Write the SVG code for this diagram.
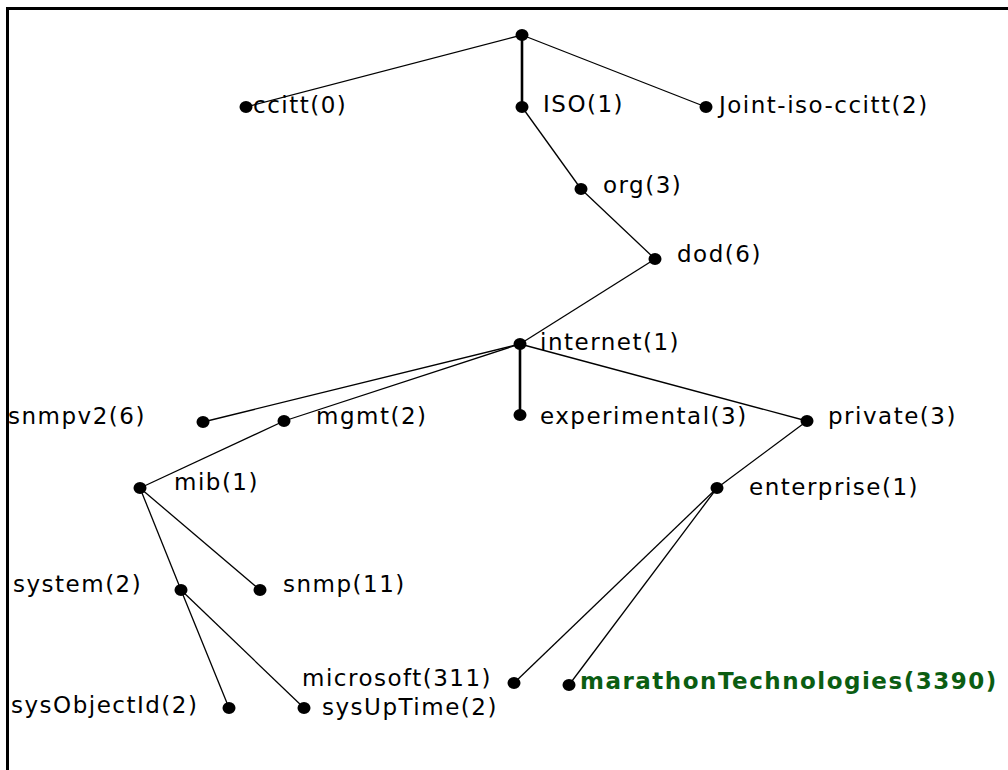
<svg xmlns="http://www.w3.org/2000/svg" width="1008" height="770" viewBox="0 0 1008 770">
<style>
.t{font-family:"DejaVu Sans","Verdana",sans-serif;font-size:23px;letter-spacing:1.5px;fill:#000}
.b{font-family:"DejaVu Sans","Verdana",sans-serif;font-size:23px;font-weight:bold;letter-spacing:1.5px;fill:#0b5d12}
.e line{stroke:#000;stroke-width:1.3}
.e line.k{stroke-width:2.6}
.d{fill:#000}
</style>
<rect width="1008" height="770" fill="#fff"/>
<path d="M7.5 770 V8.5 H1008" fill="none" stroke="#000" stroke-width="3"/>
<g class="e" id="connectors">
<line x1="522" y1="35" x2="246" y2="107"/>
<line class="k" x1="522" y1="35" x2="522" y2="107"/>
<line x1="522" y1="35" x2="706" y2="107"/>
<line x1="522" y1="107" x2="581" y2="189"/>
<line x1="581" y1="189" x2="655" y2="259"/>
<line x1="655" y1="259" x2="520" y2="344"/>
<line x1="520" y1="344" x2="203" y2="422"/>
<line x1="520" y1="344" x2="284" y2="421"/>
<line class="k" x1="520" y1="344" x2="520" y2="415"/>
<line x1="520" y1="344" x2="807" y2="421"/>
<line x1="284" y1="421" x2="140" y2="488"/>
<line x1="140" y1="488" x2="181" y2="590"/>
<line x1="140" y1="488" x2="260" y2="590"/>
<line x1="181" y1="590" x2="229" y2="708"/>
<line x1="181" y1="590" x2="304" y2="708"/>
<line x1="807" y1="421" x2="717" y2="488"/>
<line x1="717" y1="488" x2="514" y2="683"/>
<line x1="717" y1="488" x2="569" y2="685"/>
</g>
<g id="root"><ellipse class="d" cx="522" cy="35" rx="6.5" ry="6"/></g>
<g id="ccitt"><ellipse class="d" cx="246" cy="107" rx="6.5" ry="6"/><text class="t" x="253" y="113">ccitt(0)</text></g>
<g id="iso"><ellipse class="d" cx="522" cy="107" rx="6.5" ry="6"/><text class="t" x="543" y="112">ISO(1)</text></g>
<g id="joint"><ellipse class="d" cx="706" cy="107" rx="6.5" ry="6"/><text class="t" x="719" y="113">Joint-iso-ccitt(2)</text></g>
<g id="org"><ellipse class="d" cx="581" cy="189" rx="6.5" ry="6"/><text class="t" x="603" y="193">org(3)</text></g>
<g id="dod"><ellipse class="d" cx="655" cy="259" rx="6.5" ry="6"/><text class="t" x="677" y="262">dod(6)</text></g>
<g id="internet"><ellipse class="d" cx="520" cy="344" rx="6.5" ry="6"/><text class="t" x="540" y="350">internet(1)</text></g>
<g id="snmpv2"><ellipse class="d" cx="203" cy="422" rx="6.5" ry="6"/><text class="t" x="8" y="424">snmpv2(6)</text></g>
<g id="mgmt"><ellipse class="d" cx="284" cy="421" rx="6.5" ry="6"/><text class="t" x="316" y="424">mgmt(2)</text></g>
<g id="experimental"><ellipse class="d" cx="520" cy="415" rx="6.5" ry="6"/><text class="t" x="540" y="424">experimental(3)</text></g>
<g id="private"><ellipse class="d" cx="807" cy="421" rx="6.5" ry="6"/><text class="t" x="828" y="424">private(3)</text></g>
<g id="mib"><ellipse class="d" cx="140" cy="488" rx="6.5" ry="6"/><text class="t" x="174" y="490">mib(1)</text></g>
<g id="enterprise"><ellipse class="d" cx="717" cy="488" rx="6.5" ry="6"/><text class="t" x="749" y="495">enterprise(1)</text></g>
<g id="system"><ellipse class="d" cx="181" cy="590" rx="6.5" ry="6"/><text class="t" x="13" y="592">system(2)</text></g>
<g id="snmp"><ellipse class="d" cx="260" cy="590" rx="6.5" ry="6"/><text class="t" x="283" y="592">snmp(11)</text></g>
<g id="microsoft"><ellipse class="d" cx="514" cy="683" rx="6.5" ry="6"/><text class="t" x="302" y="686">microsoft(311)</text></g>
<g id="marathon"><ellipse class="d" cx="569" cy="685" rx="6.5" ry="6"/><text class="b" x="580" y="689">marathonTechnologies(3390)</text></g>
<g id="sysObjectId"><ellipse class="d" cx="229" cy="708" rx="6.5" ry="6"/><text class="t" x="11" y="713">sysObjectId(2)</text></g>
<g id="sysUpTime"><ellipse class="d" cx="304" cy="708" rx="6.5" ry="6"/><text class="t" x="322" y="715">sysUpTime(2)</text></g>
</svg>
